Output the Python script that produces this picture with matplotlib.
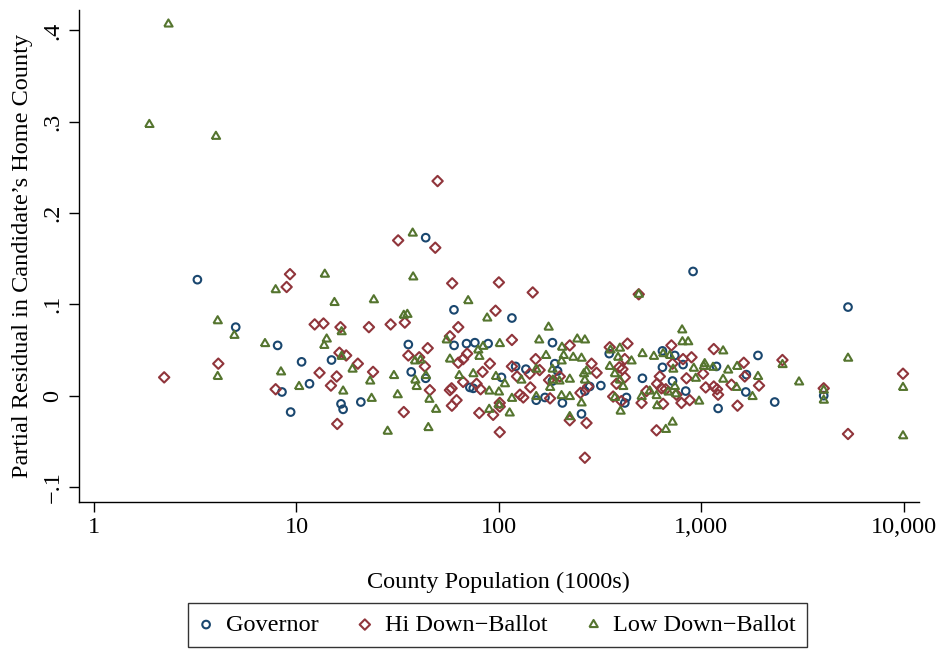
import numpy as np
import matplotlib
matplotlib.use('Agg')
import matplotlib.pyplot as plt
from matplotlib.ticker import FixedLocator, NullLocator

# county population (1000s) and partial residual
gov_pop = [3.24, 5.01, 8.07, 10.6, 14.9, 11.6, 8.48, 9.36, 16.6, 17.0,
           43.5, 60.0, 35.7, 60.1, 69.2, 36.9, 43.5, 71.9, 20.8,
           116, 184, 76.1, 88.5, 121, 136, 189, 195, 103, 184, 74.7,
           153, 169, 206, 266, 256,
           911, 351, 643, 740, 281, 319, 427, 419, 512, 643, 813, 721, 838,
           1906, 1189, 1671, 1660, 2306, 1211, 4027, 5309]
gov_res = [0.127, 0.075, 0.055, 0.037, 0.039, 0.013, 0.004, -0.018, -0.009, -0.015,
           0.173, 0.094, 0.056, 0.055, 0.057, 0.026, 0.019, 0.009, -0.007,
           0.085, 0.058, 0.058, 0.057, 0.032, 0.029, 0.035, 0.027, 0.020, 0.016, 0.008,
           -0.005, -0.002, -0.008, 0.005, -0.020,
           0.136, 0.046, 0.049, 0.044, 0.010, 0.011, -0.002, -0.008, 0.019, 0.031,
           0.034, 0.016, 0.005,
           0.044, 0.032, 0.023, 0.004, -0.007, -0.014, 0.000, 0.097]

hi_pop = [2.22, 9.29, 8.94, 12.3, 13.6, 4.11, 13.0, 7.89, 14.8, 15.8, 15.9,
          49.8, 31.8, 48.5, 58.8, 34.3, 29.2, 22.8, 16.5, 63.0, 44.5, 57.3,
          35.7, 40.4, 43.1, 63.0, 66.6, 69.7, 16.3, 17.6, 20.1, 23.9, 45.6,
          66.6, 58.4, 57.3, 61.8, 58.6, 33.9,
          100, 147, 96.3, 116, 224, 152, 90.3, 116, 159, 83.1, 123, 142, 200,
          177, 77.6, 143, 81.2, 127, 132, 179, 253, 101, 101, 80.0, 93.7,
          224, 271, 101, 266,
          491, 712, 353, 432, 813, 895, 419, 287, 304, 276, 393, 408, 419,
          381, 367, 403, 624, 721, 845, 605, 636, 668, 754, 536, 507, 648,
          798, 877, 601, 1052,
          1153, 2518, 1021, 1622, 1640, 1410, 1153, 1197, 1211, 1929, 1510,
          4027, 9925, 5309]
hi_res = [0.020, 0.133, 0.119, 0.078, 0.079, 0.035, 0.025, 0.007, 0.011, 0.021, -0.031,
          0.235, 0.170, 0.162, 0.123, 0.080, 0.078, 0.075, 0.075, 0.075, 0.052, 0.065,
          0.044, 0.042, 0.032, 0.036, 0.040, 0.046, 0.047, 0.044, 0.035, 0.026, 0.006,
          0.015, 0.008, 0.006, -0.005, -0.011, -0.018,
          0.124, 0.113, 0.093, 0.061, 0.055, 0.040, 0.035, 0.032, 0.028, 0.026, 0.021,
          0.024, 0.021, 0.017, 0.013, 0.009, 0.007, 0.001, -0.002, -0.003, 0.003,
          -0.008, -0.012, -0.019, -0.021, -0.027, -0.030, -0.040, -0.068,
          0.111, 0.055, 0.053, 0.057, 0.040, 0.042, 0.040, 0.035, 0.025, 0.010,
          0.031, 0.029, 0.020, 0.013, -0.001, -0.006, 0.021, 0.035, 0.019, 0.013,
          0.008, 0.007, 0.001, 0.005, -0.008, -0.009, -0.008, -0.005, -0.038, 0.009,
          0.051, 0.039, 0.024, 0.036, 0.021, 0.012, 0.010, 0.007, 0.001, 0.011, -0.011,
          0.008, 0.024, -0.042]

low_pop = [2.33, 1.875, 4.0, 7.89, 13.8, 15.4, 4.08, 4.93, 6.99, 14.1, 13.7,
           4.08, 8.38, 10.3,
           37.5, 37.7, 24.1, 70.5, 33.9, 35.3, 16.7, 55.2, 38.5, 41.0, 57.3,
           16.7, 18.9, 23.1, 30.3, 38.6, 39.2, 43.6, 63.7, 17.0, 23.5, 31.6,
           45.3, 48.9, 28.2, 44.8,
           87.5, 176, 158, 244, 266, 101, 83.6, 79.0, 80.0, 205, 171, 209, 233,
           256, 153, 184, 204, 74.7, 96.7, 129, 185, 199, 224, 263, 266, 107,
           89.6, 100, 179, 116, 153, 204, 224, 256, 100, 89.6, 113, 224,
           491, 804, 807, 861, 356, 396, 512, 583, 648, 699, 388, 452, 271,
           353, 374, 396, 411, 374, 399, 726, 918, 939, 1029, 740, 686, 748,
           601, 557, 507, 605, 975, 668, 721,
           1282, 2518, 1040, 1143, 1356, 1503, 1906, 1282, 1493, 1790, 3040,
           4027, 4027, 5309, 9925, 9925]
low_res = [0.407, 0.297, 0.284, 0.116, 0.133, 0.102, 0.082, 0.066, 0.057, 0.062, 0.055,
           0.021, 0.026, 0.010,
           0.178, 0.130, 0.105, 0.104, 0.088, 0.089, 0.070, 0.061, 0.038, 0.039, 0.040,
           0.043, 0.029, 0.016, 0.022, 0.017, 0.010, 0.022, 0.022, 0.005, -0.003, 0.001,
           -0.004, -0.015, -0.039, -0.035,
           0.085, 0.075, 0.061, 0.062, 0.061, 0.057, 0.054, 0.050, 0.043, 0.053, 0.044,
           0.044, 0.042, 0.041, 0.029, 0.029, 0.038, 0.024, 0.021, 0.017, 0.017, 0.016,
           0.018, 0.024, 0.017, 0.013, 0.005, 0.004, 0.009, -0.003, -0.001, 0.000,
           -0.001, -0.008, -0.010, -0.015, -0.019, -0.023,
           0.111, 0.072, 0.059, 0.059, 0.050, 0.052, 0.046, 0.043, 0.046, 0.044, 0.042,
           0.038, 0.027, 0.032, 0.024, 0.017, 0.010, -0.002, -0.017, 0.029, 0.030,
           0.019, 0.032, 0.010, 0.004, 0.002, 0.000, 0.005, -0.001, -0.011, -0.006,
           -0.037, -0.029,
           0.049, 0.034, 0.035, 0.031, 0.028, 0.032, 0.021, 0.018, 0.009, -0.001, 0.015,
           0.006, -0.005, 0.041, 0.009, -0.044]

x_ticks = [1, 10, 100, 1000, 10000]
x_tick_labels = ['1', '10', '100', '1,000', '10,000']
y_ticks = [-0.1, 0, 0.1, 0.2, 0.3, 0.4]
y_tick_labels = ['\u2212.1', '0', '.1', '.2', '.3', '.4']

NAVY = '#1a476f'
MAROON = '#90353b'
GREEN = '#55752f'
FONTSIZE = 17.5
EDGE_WIDTH = 1.5
TRIANGLE = [(-1, -0.6), (1, -0.6), (0, 1.1), (-1, -0.6)]  # Stata-like flat triangle

plt.rcParams['font.family'] = ['Liberation Serif', 'DejaVu Serif']
plt.rcParams['axes.linewidth'] = 1.0

fig = plt.figure(figsize=(9.43, 6.49), dpi=100)
ax = fig.add_axes([0.0835, 0.2265, 0.891, 0.758])

ax.scatter(gov_pop, gov_res, s=30, marker='o', facecolors='none',
           edgecolors=NAVY, linewidths=EDGE_WIDTH, label='Governor', zorder=3)
ax.scatter(hi_pop, hi_res, s=28, marker='D', facecolors='none',
           edgecolors=MAROON, linewidths=EDGE_WIDTH, label='Hi Down\u2212Ballot', zorder=3)
ax.scatter(low_pop, low_res, s=44, marker=TRIANGLE, facecolors='none',
           edgecolors=GREEN, linewidths=EDGE_WIDTH, label='Low Down\u2212Ballot', zorder=3)

ax.set_xscale('log')
ax.set_xlim(0.84, 11900)
ax.set_ylim(-0.1165, 0.4223)

ax.xaxis.set_major_locator(FixedLocator(x_ticks))
ax.xaxis.set_minor_locator(NullLocator())
ax.set_xticklabels(x_tick_labels)
ax.set_yticks(y_ticks)
ax.set_yticklabels(y_tick_labels, rotation=90, va='center')

ax.tick_params(axis='both', direction='out', length=7, width=1.0,
               labelsize=FONTSIZE, pad=4)

for side in ['top', 'right']:
    ax.spines[side].set_visible(False)

ax.set_xlabel('County Population (1000s)', fontsize=FONTSIZE, labelpad=24)
ax.set_ylabel('Partial Residual in Candidate\u2019s Home County',
              fontsize=FONTSIZE, labelpad=7)

legend = fig.legend(loc='upper center', bbox_to_anchor=(0.5276, 0.0709),
                    ncol=3, fontsize=FONTSIZE, frameon=True, fancybox=False,
                    edgecolor='black', handletextpad=0.52, columnspacing=1.6,
                    borderpad=0.45, handlelength=0.6, borderaxespad=0.0)
legend.get_frame().set_linewidth(1.0)

fig.savefig('out.png', dpi=100)
plt.close(fig)
